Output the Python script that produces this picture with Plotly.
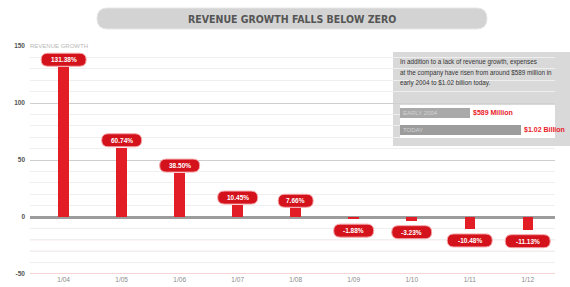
import plotly.graph_objects as go

# ---------------- data ----------------
periods = ["1/04", "1/05", "1/06", "1/07", "1/08", "1/09", "1/10", "1/11", "1/12"]
growth = [131.38, 60.74, 38.50, 10.45, 7.66, -1.88, -3.23, -10.48, -11.13]
growth_labels = [f"{v:.2f}%" for v in growth]
y_ticks = [150, 100, 50, 0, -50]

expense_labels = ["EARLY 2004", "TODAY"]
expense_values = [589, 1020]
expense_text = ["$589 Million", "$1.02 Billion"]

title_text = "REVENUE GROWTH FALLS BELOW ZERO"
axis_title = "REVENUE GROWTH"
note_lines = [
    "In addition to a lack of revenue growth, expenses",
    "at the company have risen from around $589 million in",
    "early 2004 to $1.02 billion today.",
]

# ---------------- style ----------------
RED = "#e31d25"
PILL = "#d3121b"
W, H = 570, 287
L, R, T, B = 30, 15, 46, 13
PW, PH = W - L - R, H - T - B

def px_x(px):
    return (px - L) / PW

def px_y(py):
    return (H - B - py) / PH

idx = list(range(len(periods)))

fig = go.Figure()
fig.add_trace(go.Bar(
    x=idx, y=growth, width=0.18, marker=dict(color=RED, line=dict(width=0)),
    hoverinfo="skip", showlegend=False, xaxis="x", yaxis="y",
))

# inset expense bars
fig.add_trace(go.Bar(
    y=expense_labels, x=expense_values, orientation="h", width=0.62,
    marker=dict(color=["#a9a9a9", "#9c9c9c"], line=dict(width=0)),
    text=[f"<b>{t}</b>" for t in expense_text], textposition="outside", cliponaxis=False,
    textfont=dict(color="#e8202a", size=7, family="Liberation Sans Narrow, Liberation Sans, Arial"),
    hoverinfo="skip", showlegend=False, xaxis="x2", yaxis="y2",
))

shapes = []
annotations = []

# title pill
x0, x1 = px_x(97), px_x(487)
y0, y1 = px_y(29), px_y(8)
rx, ry = 10.5 / PW, 10.5 / PH
ym = (y0 + y1) / 2
shapes.append(dict(
    type="path", xref="paper", yref="paper", layer="above",
    path=(f"M {x0+rx},{y0} L {x1-rx},{y0} Q {x1},{y0} {x1},{ym} Q {x1},{y1} {x1-rx},{y1} "
          f"L {x0+rx},{y1} Q {x0},{y1} {x0},{ym} Q {x0},{y0} {x0+rx},{y0} Z"),
    fillcolor="#d3d3d3", line=dict(color="#e6e6e6", width=1),
))
annotations.append(dict(
    text=f"<b>{title_text}</b>", xref="paper", yref="paper", x=(x0 + x1) / 2, y=ym,
    xanchor="center", yanchor="middle", showarrow=False,
    font=dict(size=10.5, color="#555555", family="Liberation Sans Narrow, DejaVu Sans Condensed, Arial Narrow"),
))

# pink gridlines below zero
for v in [-10, -20, -30, -40]:
    shapes.append(dict(type="line", xref="paper", yref="y", x0=0, x1=1, y0=v, y1=v,
                       line=dict(color="#f6dcdc", width=1), layer="below"))
shapes.append(dict(type="line", xref="paper", yref="y", x0=0, x1=1, y0=-50, y1=-50,
                   line=dict(color="#f0aaaa", width=1.2), layer="below"))

# value pills
for i, (v, t) in enumerate(zip(growth, growth_labels)):
    w = 5 * len(t) + 10
    h = 13
    r = h / 2
    if v >= 0:
        a, b = 1, 1 + h
    else:
        a, b = -5, -5 - h
    m = (a + b) / 2
    hw = w / 2
    shapes.append(dict(
        type="path", xref="x", yref="y", xsizemode="pixel", ysizemode="pixel",
        xanchor=i, yanchor=v, layer="above",
        path=(f"M {-hw+r},{a} L {hw-r},{a} Q {hw},{a} {hw},{m} Q {hw},{b} {hw-r},{b} "
              f"L {-hw+r},{b} Q {-hw},{b} {-hw},{m} Q {-hw},{a} {-hw+r},{a} Z"),
        fillcolor=PILL, line=dict(color="#f4a5a8", width=1),
    ))
    annotations.append(dict(
        text=f"<b>{t}</b>", x=i, y=v, xref="x", yref="y", showarrow=False,
        yshift=m, xanchor="center", yanchor="middle",
        font=dict(size=6.5, color="white", family="Liberation Sans, Arial"),
    ))

# axis caption next to 150
annotations.append(dict(
    text=axis_title, xref="paper", yref="y", x=px_x(27), y=150, xanchor="left", yanchor="middle",
    showarrow=False, bgcolor="white", borderpad=2,
    font=dict(size=6, color="#b8b8b8", family="Liberation Sans Narrow, Liberation Sans, Arial"),
))

# info box
shapes.append(dict(type="rect", xref="paper", yref="paper",
                   x0=px_x(393), x1=px_x(572), y0=px_y(146), y1=px_y(52),
                   fillcolor="#d9d9d9", line=dict(width=0), layer="below"))
for k, line in enumerate(note_lines):
    annotations.append(dict(
        text=line, xref="paper", yref="paper", x=px_x(398), y=px_y(62 + 10.5 * k),
        xanchor="left", yanchor="middle", showarrow=False,
        font=dict(size=6.3, color="#333333", family="Liberation Sans, Arial"),
    ))
for lab in expense_labels:
    annotations.append(dict(
        text=lab, xref="x2", yref="y2", x=8, y=lab, xanchor="left", yanchor="middle",
        showarrow=False, font=dict(size=6, color="#d4d4d4", family="Liberation Sans Narrow, Liberation Sans, Arial"),
    ))

fig.update_layout(
    width=W, height=H, margin=dict(l=L, r=R, t=T, b=B, autoexpand=False),
    paper_bgcolor="white", plot_bgcolor="white",
    bargap=0, showlegend=False,
    shapes=shapes, annotations=annotations,
    xaxis=dict(range=[-0.58, 8.47], tickmode="array", tickvals=idx, ticktext=periods,
               showgrid=False, zeroline=False, showline=False, ticks="", automargin=False,
               tickfont=dict(size=6.5, color="#8a8a8a", family="Liberation Sans, Arial"),
               fixedrange=True),
    yaxis=dict(range=[-50, 150], tickmode="array", tickvals=y_ticks,
               ticktext=[f"<b>{v}</b>" for v in y_ticks],
               showgrid=True, gridcolor="#cfcfcf", gridwidth=1, automargin=False,
               minor=dict(dtick=10, showgrid=True, gridcolor="#efefef", gridwidth=1),
               zeroline=True, zerolinecolor="#9c9c9c", zerolinewidth=2.5,
               showline=False, ticks="", ticklabelstandoff=4,
               tickfont=dict(size=6.5, color="#555555", family="Liberation Sans, Arial"),
               fixedrange=True),
    xaxis2=dict(domain=[px_x(400), 1.0], range=[0, 1310], visible=False, anchor="y2",
                automargin=False, fixedrange=True),
    yaxis2=dict(domain=[px_y(138), px_y(105)], autorange="reversed", visible=False,
                anchor="x2", automargin=False, fixedrange=True),
)

fig.write_html(
    "out.html",
    config={"displayModeBar": False},
    post_script="document.body.style.margin='0';document.body.style.padding='0';document.body.style.overflow='hidden';",
)
